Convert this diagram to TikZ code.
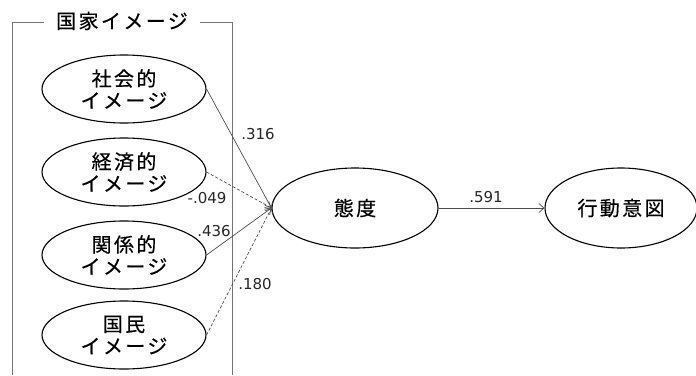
\documentclass[tikz,border=0pt]{standalone}
\usepackage{fontspec}
\setmainfont{DejaVu Sans}
\newfontfamily\jp[LetterSpace=12,FakeBold=0.4]{Noto Sans CJK JP}
\usetikzlibrary{shapes.geometric,arrows.meta}
\begin{document}
\begin{tikzpicture}[x=1pt,y=-1pt,
  lat/.style={ellipse,draw,line width=1.1pt,minimum width=164pt,minimum height=68pt,inner sep=0pt,align=center,font=\jp\fontsize{20}{22}\selectfont},
  arr/.style={draw=black!70,line width=0.7pt,-{Straight Barb[length=5pt,width=9pt]}},
  darr/.style={arr,dash pattern=on 3pt off 2pt},
  lbl/.style={inner sep=0pt,font=\fontsize{15}{16}\selectfont,text=black!85},
  frame/.style={draw=black!55,line width=0.8pt}
]
\useasboundingbox (0,0) rectangle (696,375);
\draw[frame] (12,375) -- (12,22) -- (232,22) -- (232,375);
\node[fill=white,inner xsep=12pt,inner ysep=2pt,font=\jp\fontsize{20}{22}\selectfont] (title) at (122,21) {国家イメージ};
\node[lat] (soc) at (124,89) {社会的\\イメージ};
\node[lat] (eco) at (124,172) {経済的\\イメージ};
\node[lat] (rel) at (124,255) {関係的\\イメージ};
\node[lat] (nat) at (124,335) {国民\\イメージ};
\node[lat,minimum width=166pt,minimum height=80pt] (att) at (355,208) {態度};
\node[lat,minimum width=152pt,minimum height=80pt] (act) at (621,208) {行動意図};
\draw[arr] (soc.east) -- (att.west);
\draw[darr] (eco.east) -- (att.west);
\draw[arr] (rel.east) -- (att.west);
\draw[darr] (nat.east) -- (att.west);
\draw[arr] (att.east) -- (act.west);
\node[lbl] (l1) at (258,134) {.316};
\node[lbl] (l2) at (207,198) {-.049};
\node[lbl] (l3) at (214,231) {.436};
\node[lbl] (l4) at (255,284) {.180};
\node[lbl] (l5) at (486,197) {.591};
\end{tikzpicture}
\end{document}
